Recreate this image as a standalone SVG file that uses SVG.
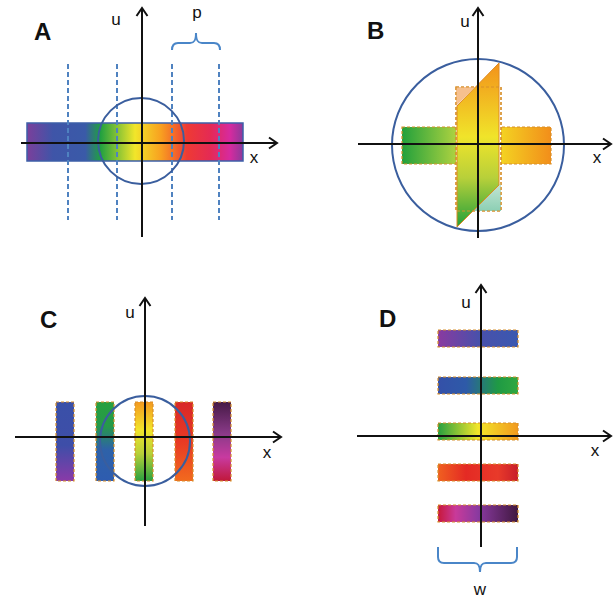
<svg xmlns="http://www.w3.org/2000/svg" width="613" height="601" viewBox="0 0 613 601">
<style>
.ax{stroke:#111;stroke-width:2;fill:none}
.ring{stroke:#3a5e9e;stroke-width:2;fill:none}
.dash{stroke:#4f82c0;stroke-width:2;stroke-dasharray:5 3}
.brace{stroke:#4a86c8;stroke-width:2;fill:none}
.ob{stroke:#d8902c;stroke-width:1.2;stroke-dasharray:3 2}
.lbl{font-family:"Liberation Sans",Arial,sans-serif;font-weight:bold;font-size:24px;fill:#111}
.t{font-family:"Liberation Sans",Arial,sans-serif;font-size:17px;fill:#111;text-anchor:middle}
</style>
<defs>
<marker id="arr" viewBox="-10 -7 12 14" refX="0" refY="0" markerWidth="12" markerHeight="14" markerUnits="userSpaceOnUse" orient="auto">
<path d="M-8,-5.5 L0,0 L-8,5.5" fill="none" stroke="#111" stroke-width="2"/>
</marker>
<linearGradient id="gA" x1="0" y1="0" x2="1" y2="0">
<stop offset="0" stop-color="#7b3f9b"/>
<stop offset="0.12" stop-color="#3f55a8"/>
<stop offset="0.27" stop-color="#3a5aa8"/>
<stop offset="0.34" stop-color="#20a040"/>
<stop offset="0.5" stop-color="#f2e62a"/>
<stop offset="0.62" stop-color="#f8a020"/>
<stop offset="0.74" stop-color="#ee3a34"/>
<stop offset="0.85" stop-color="#e42a55"/>
<stop offset="0.94" stop-color="#d62a9f"/>
<stop offset="1" stop-color="#8b3a9a"/>
</linearGradient>
<linearGradient id="gBh" x1="0" y1="0" x2="1" y2="0">
<stop offset="0" stop-color="#22a03c"/>
<stop offset="0.35" stop-color="#a8d040"/>
<stop offset="0.6" stop-color="#f4e024"/>
<stop offset="1" stop-color="#f28e1a"/>
</linearGradient>
<linearGradient id="gBv" x1="0" y1="0" x2="0" y2="1">
<stop offset="0" stop-color="#f3921a"/>
<stop offset="0.45" stop-color="#f0e42a"/>
<stop offset="0.7" stop-color="#b8d03a"/>
<stop offset="1" stop-color="#23a03a"/>
</linearGradient>
<linearGradient id="gTeal" x1="0" y1="0" x2="0" y2="1">
<stop offset="0" stop-color="#c6e6d4"/>
<stop offset="1" stop-color="#8ccfb4"/>
</linearGradient>
<linearGradient id="c1" x1="0" y1="0" x2="0" y2="1">
<stop offset="0" stop-color="#3a50a8"/><stop offset="0.55" stop-color="#3e4ea8"/><stop offset="1" stop-color="#8a3aa8"/>
</linearGradient>
<linearGradient id="c2" x1="0" y1="0" x2="0" y2="1">
<stop offset="0" stop-color="#28a040"/><stop offset="0.3" stop-color="#269a48"/><stop offset="0.6" stop-color="#2e62a8"/><stop offset="1" stop-color="#2e5cb0"/>
</linearGradient>
<linearGradient id="c3" x1="0" y1="0" x2="0" y2="1">
<stop offset="0" stop-color="#f49a20"/><stop offset="0.35" stop-color="#f2e42a"/><stop offset="0.65" stop-color="#b8d038"/><stop offset="1" stop-color="#2aa040"/>
</linearGradient>
<linearGradient id="c4" x1="0" y1="0" x2="0" y2="1">
<stop offset="0" stop-color="#d82828"/><stop offset="0.5" stop-color="#e83a24"/><stop offset="1" stop-color="#f26a1e"/>
</linearGradient>
<linearGradient id="c5" x1="0" y1="0" x2="0" y2="1">
<stop offset="0" stop-color="#461a46"/><stop offset="0.4" stop-color="#8a3a88"/><stop offset="0.7" stop-color="#c83aa0"/><stop offset="1" stop-color="#c0183a"/>
</linearGradient>
<linearGradient id="d1" x1="0" y1="0" x2="1" y2="0">
<stop offset="0" stop-color="#8a3aa0"/><stop offset="0.5" stop-color="#4a50aa"/><stop offset="1" stop-color="#3a58b0"/>
</linearGradient>
<linearGradient id="d2" x1="0" y1="0" x2="1" y2="0">
<stop offset="0" stop-color="#3450a8"/><stop offset="0.35" stop-color="#2e5aa8"/><stop offset="0.75" stop-color="#1f9a44"/><stop offset="1" stop-color="#30a840"/>
</linearGradient>
<linearGradient id="d3" x1="0" y1="0" x2="1" y2="0">
<stop offset="0" stop-color="#28a040"/><stop offset="0.5" stop-color="#f2e62a"/><stop offset="1" stop-color="#f29a1e"/>
</linearGradient>
<linearGradient id="d4" x1="0" y1="0" x2="1" y2="0">
<stop offset="0" stop-color="#f06020"/><stop offset="0.35" stop-color="#e42a24"/><stop offset="0.75" stop-color="#e83a2a"/><stop offset="1" stop-color="#c81e2a"/>
</linearGradient>
<linearGradient id="d5" x1="0" y1="0" x2="1" y2="0">
<stop offset="0" stop-color="#c8183a"/><stop offset="0.22" stop-color="#c83a9a"/><stop offset="0.5" stop-color="#8a3aa0"/><stop offset="1" stop-color="#401840"/>
</linearGradient>
</defs>
<rect width="613" height="601" fill="#fff"/>

<g id="panelA">
<rect x="27" y="123" width="216" height="38" fill="url(#gA)" stroke="#3d5fa8" stroke-width="1.5"/>
<line class="dash" x1="68" y1="64" x2="68" y2="220"/>
<line class="dash" x1="117" y1="64" x2="117" y2="220"/>
<line class="dash" x1="172" y1="64" x2="172" y2="220"/>
<line class="dash" x1="219" y1="64" x2="219" y2="220"/>
<circle class="ring" cx="141" cy="141" r="43"/>
<path class="brace" d="M172,50 C172,45 174,43 178,43 L190,43 C194,43 196,41 196,33 C196,41 198,43 202,43 L214,43 C218,43 220,45 220,50"/>
</g>

<g id="panelB">
<rect class="ob" x="402" y="127" width="149" height="37" fill="url(#gBh)"/>
<rect class="ob" x="456" y="87" width="45" height="124" fill="#fff"/>
<polygon points="456,87 475,87 456,106" fill="#f6c08e"/>
<polygon points="473,211 501,211 501,183" fill="url(#gTeal)"/>
<polygon points="457,106 499,63 499,185 457,227" fill="url(#gBv)" stroke="#e08a20" stroke-width="1"/>
<rect class="ob" x="456" y="87" width="45" height="124" fill="none"/>
<circle class="ring" cx="478" cy="145" r="86"/>
</g>

<g id="panelC">
<rect class="ob" x="56" y="402" width="18" height="79" fill="url(#c1)"/>
<rect class="ob" x="96" y="402" width="18" height="79" fill="url(#c2)"/>
<rect class="ob" x="135" y="402" width="18" height="79" fill="url(#c3)"/>
<rect class="ob" x="175" y="402" width="18" height="79" fill="url(#c4)"/>
<rect class="ob" x="213" y="402" width="18" height="79" fill="url(#c5)"/>
<circle class="ring" cx="145" cy="441" r="45"/>
</g>

<g id="panelD">
<rect class="ob" x="438" y="330" width="80" height="17" fill="url(#d1)"/>
<rect class="ob" x="438" y="377" width="80" height="17" fill="url(#d2)"/>
<rect class="ob" x="438" y="423" width="80" height="17" fill="url(#d3)"/>
<rect class="ob" x="438" y="464" width="80" height="17" fill="url(#d4)"/>
<rect class="ob" x="438" y="505" width="80" height="17" fill="url(#d5)"/>
<path class="brace" d="M438,547 L438,557 C438,561 440,563 444,563 L474,563 C478,563 480,565 480,572 C480,565 482,563 486,563 L511,563 C515,563 517,561 517,557 L517,547"/>
</g>

<g id="connectors">
<line class="ax" x1="21" y1="143" x2="277" y2="143" marker-end="url(#arr)"/>
<line class="ax" x1="142" y1="237" x2="142" y2="8" marker-end="url(#arr)"/>
<line class="ax" x1="358" y1="144" x2="611" y2="144" marker-end="url(#arr)"/>
<line class="ax" x1="478" y1="238" x2="478" y2="8" marker-end="url(#arr)"/>
<line class="ax" x1="15" y1="437" x2="281" y2="437" marker-end="url(#arr)"/>
<line class="ax" x1="145" y1="526" x2="145" y2="298" marker-end="url(#arr)"/>
<line class="ax" x1="357" y1="436" x2="611" y2="436" marker-end="url(#arr)"/>
<line class="ax" x1="481" y1="547" x2="481" y2="285" marker-end="url(#arr)"/>
</g>

<g id="labels">
<text class="lbl" x="34" y="40">A</text>
<text class="t" x="116" y="25">u</text>
<text class="t" x="197" y="18">p</text>
<text class="t" x="254" y="163">x</text>
<text class="lbl" x="367" y="39">B</text>
<text class="t" x="465" y="27">u</text>
<text class="t" x="597" y="163">x</text>
<text class="lbl" x="40" y="328">C</text>
<text class="t" x="130" y="318">u</text>
<text class="t" x="267" y="458">x</text>
<text class="lbl" x="379" y="327">D</text>
<text class="t" x="466" y="308">u</text>
<text class="t" x="595" y="456">x</text>
<text class="t" x="480" y="595">w</text>
</g>
</svg>
